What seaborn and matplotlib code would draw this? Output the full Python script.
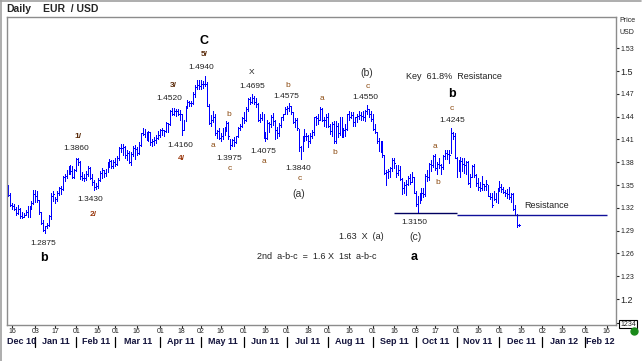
import numpy as np
import pandas as pd
import matplotlib
matplotlib.use("Agg")
import matplotlib.pyplot as plt
import matplotlib.transforms as mtransforms
from matplotlib.lines import Line2D
import seaborn as sns

# EUR/USD daily bars, 14 Dec 2010 - 15 Dec 2011 (one line per week)
highs = [
    1.3500, 1.3390, 1.3260, 1.3245,
    1.3215, 1.3240, 1.3195, 1.3145, 1.3130,
    1.3170, 1.3220, 1.3230, 1.3290, 1.3435,
    1.3430, 1.3420, 1.3300, 1.3150, 1.3040,
    1.2965, 1.3000, 1.3110, 1.3390, 1.3420,
    1.3340, 1.3415, 1.3480, 1.3490, 1.3620,
    1.3650, 1.3695, 1.3755, 1.3760, 1.3750,
    1.3705, 1.3860, 1.3860, 1.3815, 1.3670,
    1.3640, 1.3685, 1.3755, 1.3735, 1.3650,
    1.3560, 1.3525, 1.3590, 1.3690, 1.3730,
    1.3700, 1.3715, 1.3800, 1.3840, 1.3830,
    1.3830, 1.3860, 1.3885, 1.4000, 1.4035,
    1.4035, 1.4015, 1.3960, 1.3950, 1.3930,
    1.4020, 1.4030, 1.4000, 1.4070, 1.4190,
    1.4250, 1.4240, 1.4200, 1.4215, 1.4200,
    1.4110, 1.4130, 1.4160, 1.4210, 1.4240,
    1.4245, 1.4230, 1.4330, 1.4320, 1.4485,
    1.4520, 1.4515, 1.4500, 1.4495, 1.4490,
    1.4435, 1.4355, 1.4535, 1.4620, 1.4610,
    1.4605, 1.4730, 1.4810, 1.4885, 1.4880,
    1.4880, 1.4870, 1.4940, 1.4850, 1.4570,
    1.4420, 1.4470, 1.4430, 1.4230, 1.4245,
    1.4190, 1.4250, 1.4260, 1.4345, 1.4330,
    1.4100, 1.4100, 1.4135, 1.4150, 1.4260,
    1.4300, 1.4400, 1.4460, 1.4530, 1.4640,
    1.4660, 1.4695, 1.4675, 1.4650, 1.4580,
    1.4440, 1.4460, 1.4430, 1.4200, 1.4355,
    1.4335, 1.4415, 1.4445, 1.4355, 1.4270,
    1.4320, 1.4400, 1.4440, 1.4530, 1.4535,
    1.4575, 1.4540, 1.4460, 1.4380, 1.4380,
    1.4240, 1.4010, 1.4150, 1.4240, 1.4190,
    1.4160, 1.4190, 1.4225, 1.4400, 1.4410,
    1.4430, 1.4530, 1.4520, 1.4400, 1.4430,
    1.4450, 1.4300, 1.4330, 1.4340, 1.4340,
    1.4310, 1.4400, 1.4390, 1.4250, 1.4300,
    1.4440, 1.4480, 1.4460, 1.4460, 1.4400,
    1.4440, 1.4480, 1.4460, 1.4475, 1.4490,
    1.4550, 1.4500, 1.4480, 1.4440, 1.4300,
    1.4200, 1.4120, 1.4080, 1.4080, 1.3890,
    1.3700, 1.3710, 1.3740, 1.3850, 1.3860,
    1.3770, 1.3770, 1.3750, 1.3590, 1.3540,
    1.3560, 1.3620, 1.3650, 1.3670, 1.3610,
    1.3420, 1.3350, 1.3400, 1.3460, 1.3460,
    1.3640, 1.3700, 1.3790, 1.3830, 1.3890,
    1.3910, 1.3800, 1.3850, 1.3780, 1.3890,
    1.3960, 1.3960, 1.3960, 1.4245, 1.4200,
    1.4180, 1.3870, 1.3830, 1.3870, 1.3860,
    1.3860, 1.3820, 1.3810, 1.3640, 1.3770,
    1.3780, 1.3640, 1.3590, 1.3540, 1.3620,
    1.3520, 1.3560, 1.3500, 1.3400, 1.3390,
    1.3420, 1.3390, 1.3460, 1.3550, 1.3520,
    1.3480, 1.3440, 1.3450, 1.3470, 1.3400,
    1.3390, 1.3235, 1.3120, 1.2985,
]
lows = [
    1.3360, 1.3225, 1.3180, 1.3170,
    1.3110, 1.3120, 1.3070, 1.3060, 1.3080,
    1.3100, 1.3080, 1.3080, 1.3180, 1.3250,
    1.3280, 1.3280, 1.3120, 1.2990, 1.2900,
    1.2875, 1.2930, 1.2960, 1.3050, 1.3290,
    1.3260, 1.3290, 1.3370, 1.3385, 1.3430,
    1.3550, 1.3590, 1.3640, 1.3640, 1.3590,
    1.3590, 1.3690, 1.3770, 1.3580, 1.3560,
    1.3550, 1.3570, 1.3620, 1.3575, 1.3500,
    1.3430, 1.3445, 1.3460, 1.3550, 1.3590,
    1.3610, 1.3620, 1.3670, 1.3740, 1.3720,
    1.3725, 1.3750, 1.3760, 1.3835, 1.3940,
    1.3895, 1.3860, 1.3830, 1.3790, 1.3760,
    1.3880, 1.3840, 1.3890, 1.3910, 1.4010,
    1.4155, 1.4130, 1.4090, 1.4080, 1.4030,
    1.4020, 1.4030, 1.4050, 1.4110, 1.4130,
    1.4160, 1.4145, 1.4200, 1.4200, 1.4290,
    1.4420, 1.4420, 1.4410, 1.4415, 1.4350,
    1.4160, 1.4220, 1.4340, 1.4510, 1.4540,
    1.4540, 1.4560, 1.4660, 1.4770, 1.4770,
    1.4770, 1.4780, 1.4800, 1.4545, 1.4300,
    1.4280, 1.4330, 1.4160, 1.4120, 1.4100,
    1.4080, 1.4110, 1.4160, 1.4210, 1.4100,
    1.3970, 1.4010, 1.4020, 1.4050, 1.4130,
    1.4230, 1.4270, 1.4315, 1.4340, 1.4470,
    1.4570, 1.4580, 1.4560, 1.4530, 1.4345,
    1.4335, 1.4350, 1.4120, 1.4075, 1.4110,
    1.4200, 1.4270, 1.4290, 1.4100, 1.4120,
    1.4150, 1.4270, 1.4350, 1.4430, 1.4440,
    1.4480, 1.4440, 1.4310, 1.4260, 1.4220,
    1.3950, 1.3840, 1.3950, 1.4075, 1.4090,
    1.4000, 1.4050, 1.4115, 1.4155, 1.4290,
    1.4300, 1.4360, 1.4340, 1.4280, 1.4270,
    1.4260, 1.4170, 1.4140, 1.4050, 1.4050,
    1.4130, 1.4160, 1.4130, 1.4130, 1.4150,
    1.4230, 1.4360, 1.4380, 1.4280, 1.4280,
    1.4330, 1.4375, 1.4350, 1.4360, 1.4340,
    1.4440, 1.4390, 1.4340, 1.4230, 1.4180,
    1.4050, 1.3950, 1.3930, 1.3870, 1.3640,
    1.3500, 1.3590, 1.3600, 1.3690, 1.3720,
    1.3600, 1.3630, 1.3560, 1.3380, 1.3390,
    1.3370, 1.3500, 1.3520, 1.3540, 1.3390,
    1.3220, 1.3150, 1.3260, 1.3300, 1.3340,
    1.3360, 1.3550, 1.3570, 1.3680, 1.3740,
    1.3700, 1.3640, 1.3720, 1.3650, 1.3710,
    1.3840, 1.3840, 1.3790, 1.3920, 1.4100,
    1.3850, 1.3610, 1.3680, 1.3610, 1.3680,
    1.3660, 1.3650, 1.3520, 1.3480, 1.3600,
    1.3600, 1.3490, 1.3430, 1.3420, 1.3430,
    1.3430, 1.3440, 1.3360, 1.3320, 1.3210,
    1.3300, 1.3280, 1.3260, 1.3420, 1.3410,
    1.3390, 1.3350, 1.3330, 1.3310, 1.3280,
    1.3170, 1.3100, 1.2945, 1.2960,
]
closes = [
    1.3375, 1.3240, 1.3220, 1.3180,
    1.3135, 1.3185, 1.3095, 1.3085, 1.3110,
    1.3150, 1.3090, 1.3225, 1.3260, 1.3380,
    1.3360, 1.3300, 1.3150, 1.3000, 1.2910,
    1.2960, 1.2975, 1.3095, 1.3360, 1.3380,
    1.3310, 1.3390, 1.3460, 1.3450, 1.3610,
    1.3615, 1.3675, 1.3705, 1.3685, 1.3600,
    1.3695, 1.3840, 1.3805, 1.3620, 1.3590,
    1.3590, 1.3645, 1.3730, 1.3595, 1.3540,
    1.3480, 1.3490, 1.3570, 1.3660, 1.3695,
    1.3660, 1.3675, 1.3790, 1.3810, 1.3745,
    1.3800, 1.3780, 1.3860, 1.3985, 1.3990,
    1.4000, 1.3890, 1.3915, 1.3800, 1.3905,
    1.3990, 1.3980, 1.3920, 1.4025, 1.4180,
    1.4175, 1.4195, 1.4105, 1.4195, 1.4060,
    1.4075, 1.4090, 1.4125, 1.4160, 1.4230,
    1.4225, 1.4215, 1.4310, 1.4300, 1.4475,
    1.4435, 1.4480, 1.4470, 1.4440, 1.4430,
    1.4225, 1.4345, 1.4525, 1.4590, 1.4575,
    1.4580, 1.4695, 1.4790, 1.4820, 1.4805,
    1.4830, 1.4830, 1.4830, 1.4545, 1.4315,
    1.4350, 1.4390, 1.4180, 1.4210, 1.4120,
    1.4150, 1.4235, 1.4240, 1.4310, 1.4150,
    1.4030, 1.4090, 1.4065, 1.4140, 1.4250,
    1.4275, 1.4380, 1.4360, 1.4500, 1.4630,
    1.4595, 1.4650, 1.4590, 1.4560, 1.4350,
    1.4385, 1.4410, 1.4170, 1.4120, 1.4310,
    1.4300, 1.4395, 1.4340, 1.4225, 1.4190,
    1.4295, 1.4390, 1.4430, 1.4500, 1.4515,
    1.4535, 1.4460, 1.4330, 1.4350, 1.4255,
    1.4000, 1.3960, 1.4140, 1.4150, 1.4150,
    1.4080, 1.4150, 1.4200, 1.4390, 1.4385,
    1.4360, 1.4500, 1.4360, 1.4350, 1.4400,
    1.4280, 1.4210, 1.4300, 1.4080, 1.4280,
    1.4180, 1.4380, 1.4180, 1.4230, 1.4240,
    1.4430, 1.4390, 1.4420, 1.4330, 1.4390,
    1.4410, 1.4420, 1.4410, 1.4400, 1.4480,
    1.4500, 1.4440, 1.4370, 1.4240, 1.4200,
    1.4080, 1.3980, 1.4000, 1.3890, 1.3660,
    1.3670, 1.3680, 1.3730, 1.3830, 1.3790,
    1.3660, 1.3700, 1.3580, 1.3460, 1.3500,
    1.3520, 1.3590, 1.3540, 1.3600, 1.3390,
    1.3250, 1.3330, 1.3350, 1.3400, 1.3380,
    1.3620, 1.3610, 1.3780, 1.3760, 1.3880,
    1.3730, 1.3780, 1.3760, 1.3740, 1.3880,
    1.3920, 1.3910, 1.3900, 1.4180, 1.4150,
    1.3860, 1.3700, 1.3760, 1.3810, 1.3780,
    1.3770, 1.3800, 1.3530, 1.3610, 1.3750,
    1.3630, 1.3530, 1.3480, 1.3460, 1.3520,
    1.3490, 1.3520, 1.3360, 1.3340, 1.3240,
    1.3320, 1.3320, 1.3440, 1.3470, 1.3450,
    1.3410, 1.3400, 1.3380, 1.3340, 1.3380,
    1.3180, 1.3110, 1.2980, 1.2975,
]
dates = pd.bdate_range("2010-12-14", "2011-12-15")

# horizontal resistance segments
res_levels = [1.3130, 1.3110]
res_start = ["2011-09-16", "2011-11-01"]
res_end = ["2011-11-01", "2012-02-16"]

# axis text
day_ticks = ["2010-12-16", "2011-01-03", "2011-01-17", "2011-02-01", "2011-02-16",
             "2011-03-01", "2011-03-16", "2011-04-01", "2011-04-18", "2011-05-02",
             "2011-05-16", "2011-06-01", "2011-06-16", "2011-07-01", "2011-07-18",
             "2011-08-01", "2011-08-16", "2011-09-01", "2011-09-16", "2011-10-03",
             "2011-10-17", "2011-11-01", "2011-11-16", "2011-12-01", "2011-12-16",
             "2012-01-02", "2012-01-16", "2012-02-01", "2012-02-16"]
month_starts = ["2011-01-03", "2011-02-01", "2011-03-01", "2011-04-01", "2011-05-02",
                "2011-06-01", "2011-07-01", "2011-08-01", "2011-09-01", "2011-10-03",
                "2011-11-01", "2011-12-01", "2012-01-02", "2012-02-01"]
month_names = ["Dec 10", "Jan 11", "Feb 11", "Mar 11", "Apr 11", "May 11", "Jun 11",
               "Jul 11", "Aug 11", "Sep 11", "Oct 11", "Nov 11", "Dec 11", "Jan 12", "Feb 12"]
price_ticks = [1.2, 1.23, 1.26, 1.29, 1.32, 1.35, 1.38, 1.41, 1.44, 1.47, 1.5, 1.53]


def pos(d):
    # trading-day position counted from Mon 13 Dec 2010
    return np.busday_count("2010-12-13", np.datetime64(pd.Timestamp(d).date(), "D"))


x = np.array([pos(d) for d in dates])
assert len(x) == len(highs) == len(lows) == len(closes)

sns.set_theme(style="white")
plt.rcParams["font.family"] = ["Liberation Sans", "DejaVu Sans"]

fig = plt.figure(figsize=(6.44, 3.61), dpi=100, facecolor="white")
ax = fig.add_axes([7 / 644, 1 - 325 / 361, 609 / 644, 308 / 361])
ax.set_facecolor("white")

blue = "#0000ff"
bars = pd.DataFrame({"pos": np.repeat(x, 2),
                     "price": np.column_stack([lows, highs]).ravel()})
sns.lineplot(data=bars, x="pos", y="price", units="pos", estimator=None,
             color=blue, lw=0.55, antialiased=False, ax=ax)
ax.hlines(closes, x, x + 0.45, color=blue, lw=0.55, antialiased=False)

res_cols = ["#000060", "#10109a"]
for lvl, a, b, c in zip(res_levels, res_start, res_end, res_cols):
    ax.hlines(lvl, pos(a), pos(b), color=c, lw=1.0)

ax.set_xlim(0.44, 312.75)
ax.set_ylim(1.1658, 1.5711)
ax.set_xlabel("")
ax.set_ylabel("")
for s in ax.spines.values():
    s.set_color("#8c8c8c")
    s.set_linewidth(1.0)

# right price axis
ax.yaxis.tick_right()
ax.set_yticks(price_ticks + [1.1684])
ax.set_yticklabels([f"{p:g}" for p in price_ticks] + ["1234"])
ax.tick_params(axis="y", which="both", right=True, left=False, length=2, width=0.8,
               pad=1, labelsize=5, colors="#222222")
for lab in ax.get_yticklabels():
    if lab.get_text() in ("1.5", "1.2"):
        lab.set_fontsize(6.5)
    if lab.get_text() == "1234":
        lab.set_bbox(dict(facecolor="white", edgecolor="black", pad=0.6, lw=0.8))
fig.text(619 / 644, 1 - 21 / 361, "Price", fontsize=5, color="#222222", va="center")
fig.text(619 / 644, 1 - 33 / 361, "USD", fontsize=5, color="#222222", va="center")

# day ticks
ax.set_xticks([pos(d) for d in day_ticks])
ax.set_xticklabels([d[-2:] for d in day_ticks])
ax.tick_params(axis="x", bottom=True, length=2, width=0.8, pad=0.5, labelsize=5,
               colors="#222222")

# month row
tx = mtransforms.blended_transform_factory(ax.transData, fig.transFigure)
edges = [0.44] + [pos(d) for d in month_starts] + [312.75]
for name, a, b in zip(month_names, edges[:-1], edges[1:]):
    ax.text((a + b) / 2, 1 - 342 / 361, name, transform=tx, ha="center", va="center",
            fontsize=6.5, fontweight="bold", color="#14143c", clip_on=False)
for d in month_starts:
    ax.add_line(Line2D([pos(d)] * 2, [1 - 337 / 361, 1 - 347 / 361], transform=tx,
                       color="black", lw=0.9, clip_on=False))

# wave labels (bar position, price, text, style)
styles = {
    "px": dict(fontsize=6, color="#222222"),
    "wv": dict(fontsize=6, color="#8b4a10"),
    "nm": dict(fontsize=6, color="#5a2a08", fontweight="bold"),
    "nr": dict(fontsize=6, color="#9a3a10", fontweight="bold"),
    "bg": dict(fontsize=9, color="black", fontweight="bold"),
    "pr": dict(fontsize=7.5, color="#333333"),
    "nt": dict(fontsize=6.5, color="#222222"),
}
labels = [
    (101.5, 1.5395, "C", "bg"), (101.5, 1.5224, "5/", "nm"), (99.9, 1.5053, "1.4940", "px"),
    (85.6, 1.4816, "3/", "nm"), (83.5, 1.4632, "1.4520", "px"),
    (36.9, 1.4132, "1/", "nm"), (35.8, 1.3974, "1.3860", "px"),
    (43.0, 1.3303, "1.3430", "px"), (44.5, 1.3118, "2/", "nr"),
    (18.9, 1.2724, "1.2875", "px"), (19.4, 1.2539, "b", "bg"),
    (89.2, 1.4026, "1.4160", "px"), (89.7, 1.3855, "4/", "nr"),
    (106.1, 1.4026, "a", "wv"), (114.3, 1.4434, "b", "wv"),
    (114.3, 1.3855, "1.3975", "px"), (114.8, 1.3711, "c", "wv"),
    (126.1, 1.4987, "X", "px"), (126.1, 1.4803, "1.4695", "px"),
    (131.7, 1.3947, "1.4075", "px"), (132.2, 1.3816, "a", "wv"),
    (144.5, 1.4816, "b", "wv"), (143.5, 1.4671, "1.4575", "px"),
    (149.7, 1.3711, "1.3840", "px"), (150.7, 1.3592, "c", "wv"),
    (150.2, 1.3382, "(a)", "pr"), (162.0, 1.4632, "a", "wv"), (168.6, 1.3934, "b", "wv"),
    (185.1, 1.4974, "(b)", "pr"), (185.6, 1.4803, "c", "wv"), (184.0, 1.4658, "1.4550", "px"),
    (228.6, 1.4697, "b", "bg"), (228.6, 1.4513, "c", "wv"), (228.6, 1.4355, "1.4245", "px"),
    (219.9, 1.4013, "a", "wv"), (221.5, 1.3539, "b", "wv"),
    (209.2, 1.3013, "1.3150", "px"), (209.7, 1.2816, "(c)", "pr"), (209.2, 1.2553, "a", "bg"),
    (182.0, 1.2816, "1.63  X  (a)", "nt"),
    (159.4, 1.2553, "2nd  a-b-c  =  1.6 X  1st  a-b-c", "nt"),
    (276.9, 1.3224, "Resistance", "nt"),
]
for lx, ly, t, st in labels:
    ax.text(lx, ly, t, ha="center", va="center", **styles[st])
ax.text(205.1, 1.4934, "Key  61.8%  Resistance", ha="left", va="center", **styles["nt"])

# header and frame
fig.text(6 / 644, 1 - 9.5 / 361, "Daily", fontsize=7.5, fontweight="bold", va="center")
fig.text(43 / 644, 1 - 9.5 / 361, "EUR  / USD", fontsize=7.5, fontweight="bold", va="center")
fig.add_artist(Line2D([0, 641 / 644], [1 - 0.5 / 361] * 2, color="#a0a0a0", lw=1.2))
fig.add_artist(Line2D([0.5 / 644] * 2, [0, 1], color="#a0a0a0", lw=1.2))
ax.plot([634 / 644], [1 - 331 / 361], "o", color="#1a8a1a", ms=5,
        transform=fig.transFigure, clip_on=False)

fig.savefig("out.png", dpi=100, facecolor="white")
